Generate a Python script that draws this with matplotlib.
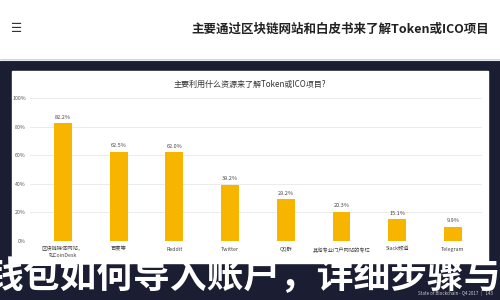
import numpy as np
import matplotlib.pyplot as plt
from matplotlib.patches import Rectangle

plt.rcParams['font.family'] = ['Noto Sans CJK SC', 'DejaVu Sans']

# data
categories = ['区块链媒体网站，\n如CoinDesk', '百度等', 'Reddit', 'Twitter', 'QQ群',
              '其他专业门户网站的专栏', 'Slack频道', 'Telegram']
values = [82.2, 62.5, 62.0, 39.2, 29.2, 20.3, 15.1, 9.9]
yticks = [0, 20, 40, 60, 80, 100]

header_title = '主要通过区块链网站和白皮书来了解Token或ICO项目'
chart_title = '主要利用什么资源来了解Token或ICO项目?'
overlay = '钱包如何导入账户，详细步骤与'
footer = 'State of Blockchain - Q4 2017   |   143'

W, H = 500, 300
fig = plt.figure(figsize=(5, 3), dpi=100)
fig.patch.set_facecolor('white')

def px(x, y, w, h):
    return [x / W, 1 - (y + h) / H, w / W, h / H]

# background pieces
bg = fig.add_axes([0, 0, 1, 1])
bg.set_xlim(0, W)
bg.set_ylim(H, 0)
bg.axis('off')
bg.add_patch(Rectangle((0, 60), W, 240, color='#1b1e33'))
bg.add_patch(Rectangle((12, 71), 476, 192, color='white'))
bg.plot([0, W], [60, 60], color='#e6e8ee', lw=0.8)
bg.text(17, 29, '☰', fontsize=9, color='#333333', va='center', ha='center',
        family=['DejaVu Sans'])
bg.text(489, 29, header_title, fontsize=9, fontweight='bold', color='#222222',
        va='center', ha='right')
bg.text(250, 84, chart_title, fontsize=5.8, color='#333333', va='center', ha='center')
bg.text(493, 293, footer, fontsize=3.2, color='#c9cbd6', va='center', ha='right')

# chart
ax = fig.add_axes(px(30, 98, 452, 143))
x = np.arange(len(values))
ax.bar(x, values, width=0.32, color='#f7b500', zorder=3)
for xi, v in zip(x, values):
    ax.text(xi, v + 2.5, f'{v:.1f}%', ha='center', va='bottom', fontsize=4, color='#444444')
ax.set_xlim(-0.59, 7.52)
ax.set_ylim(0, 100)
ax.set_yticks(yticks)
ax.set_yticklabels([f'{t}%' for t in yticks])
ax.set_xticks(x)
ax.set_xticklabels(categories, fontsize=3.8, color='#444444', linespacing=1.2)
ax.tick_params(axis='y', labelsize=3.8, labelcolor='#555555', length=0, pad=3)
ax.tick_params(axis='x', length=0, pad=4)
ax.grid(axis='y', color='#e8e8e8', lw=0.6, zorder=0)
for s in ax.spines.values():
    s.set_visible(False)

# overlay text
bg.text(-14, 278, overlay, fontsize=26.5, fontweight='bold', color='white',
        va='center', ha='left', zorder=10)

fig.savefig('out.png', dpi=100)
